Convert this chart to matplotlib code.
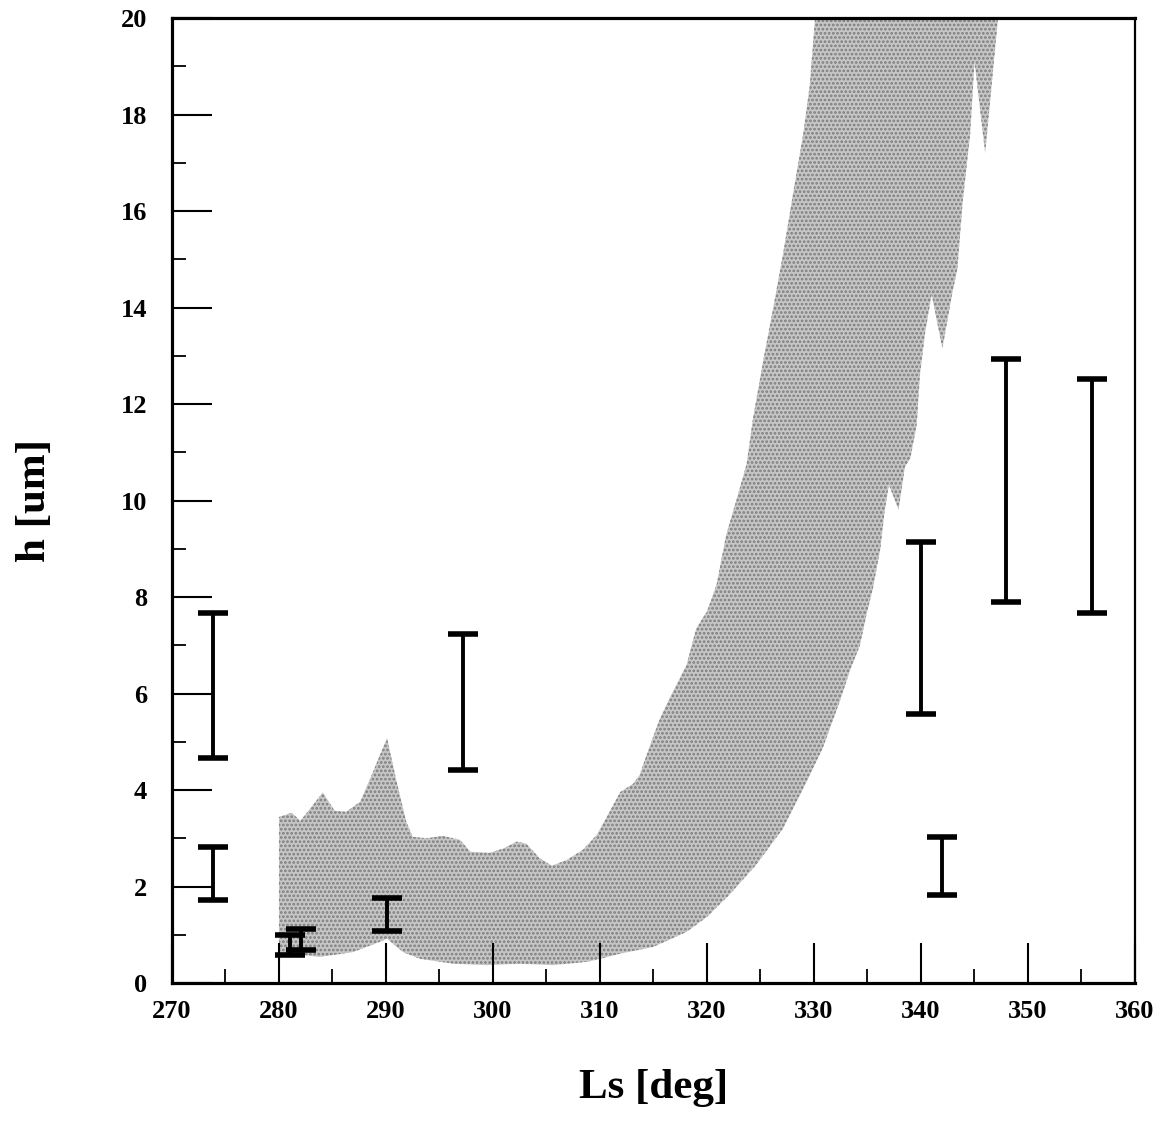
import numpy as np
import matplotlib
matplotlib.use('Agg')
import matplotlib.pyplot as plt
from matplotlib.ticker import MultipleLocator

plt.rcParams['font.family'] = ['Liberation Serif', 'DejaVu Serif']
plt.rcParams['hatch.linewidth'] = 1.3

# shaded band, upper (left) edge
up_ls = [280.0, 281.2, 282.0, 284.1, 285.2, 286.3, 287.6, 288.8, 290.1, 291.0,
         291.9, 292.5, 293.8, 295.3, 296.9, 297.9, 299.7, 301.0, 302.2, 303.1,
         304.4, 305.5, 306.9, 308.4, 309.7, 310.9, 311.9, 313.1, 313.7, 314.7,
         315.6, 316.5, 318.1, 319.0, 320.0, 320.9, 321.8, 322.8, 323.7, 324.3,
         325.3, 326.2, 327.1, 328.0, 329.0, 329.6, 330.1]
up_h = [3.44, 3.53, 3.36, 3.95, 3.57, 3.55, 3.76, 4.38, 5.08, 4.17,
        3.34, 3.03, 3.00, 3.05, 2.97, 2.72, 2.70, 2.79, 2.93, 2.89,
        2.58, 2.43, 2.55, 2.76, 3.07, 3.55, 3.96, 4.13, 4.31, 4.94,
        5.48, 5.90, 6.60, 7.35, 7.70, 8.26, 9.29, 10.05, 10.75, 11.70,
        12.95, 14.0, 15.1, 16.3, 17.6, 18.6, 20.0]

# shaded band, lower (right) edge
low_ls = [280.0, 281.5, 283.8, 286.9, 289.4, 290.1, 291.6, 293.2, 296.3, 299.4,
          302.5, 305.6, 308.8, 310.0, 311.9, 315.0, 318.1, 320.0, 322.1, 324.6,
          327.1, 329.0, 330.8, 332.4, 333.4, 334.3, 334.9, 335.5, 336.2, 336.6,
          337.0, 337.9, 338.5, 339.0, 339.6, 339.9, 340.4, 341.0, 342.0, 342.9,
          343.4, 343.9, 344.6, 345.0, 346.0, 347.2]
low_h = [0.62, 0.60, 0.54, 0.64, 0.85, 0.92, 0.64, 0.50, 0.40, 0.37,
         0.40, 0.37, 0.44, 0.50, 0.61, 0.75, 1.06, 1.37, 1.83, 2.45,
         3.20, 4.03, 4.86, 5.83, 6.50, 7.00, 7.63, 8.17, 9.00, 9.77,
         10.33, 9.81, 10.70, 10.87, 11.57, 12.60, 13.50, 14.27, 13.15, 14.27,
         14.80, 16.20, 17.60, 19.10, 17.20, 20.0]

# measured ranges
bar_ls = [273.8, 273.8, 281.0, 282.1, 290.1, 297.2, 340.0, 342.0, 347.9, 356.0]
bar_lo = [4.67, 1.72, 0.58, 0.68, 1.08, 4.42, 5.58, 1.83, 7.90, 7.66]
bar_hi = [7.66, 2.82, 1.00, 1.12, 1.76, 7.24, 9.15, 3.03, 12.93, 12.51]

xticks = np.arange(270, 361, 10)
yticks = np.arange(0, 21, 2)

fig = plt.figure(figsize=(11.61, 11.29), dpi=100)
ax = fig.add_axes([0.1481, 0.1293, 0.8295, 0.8547])

# band polygon: upper edge forward, lower edge back
px = np.r_[up_ls, low_ls[::-1]]
py = np.r_[up_h, low_h[::-1]]
ax.fill(px, py, facecolor='#c6c6c6', edgecolor='#7c7c7c', hatch='....',
        linewidth=0, zorder=1)

lo = np.array(bar_lo)
hi = np.array(bar_hi)
ax.errorbar(bar_ls, (lo + hi) / 2, yerr=(hi - lo) / 2, fmt='none',
            ecolor='black', elinewidth=2.8, capsize=11, capthick=4, zorder=3)

ax.set_xlim(270, 360)
ax.set_ylim(0, 20)
ax.set_xticks(xticks)
ax.set_yticks(yticks)
ax.xaxis.set_minor_locator(MultipleLocator(5))
ax.yaxis.set_minor_locator(MultipleLocator(1))

ax.tick_params(which='major', direction='in', length=29, width=1.5,
               top=False, right=False)
ax.tick_params(which='minor', direction='in', length=10, width=1.3,
               top=False, right=False)
ax.tick_params(axis='y', which='major', pad=18)
ax.tick_params(axis='x', which='major', pad=12)
for lab in ax.get_xticklabels() + ax.get_yticklabels():
    lab.set_fontsize(19)
    lab.set_fontweight('bold')

for s in ['left', 'bottom', 'top']:
    ax.spines[s].set_linewidth(2.3)
ax.spines['right'].set_linewidth(1.6)

ax.set_xlabel('Ls [deg]', fontsize=31, fontweight='bold', labelpad=33)
ax.set_ylabel('h [um]', fontsize=31, fontweight='bold', labelpad=48)

fig.savefig('out.png', dpi=100)
